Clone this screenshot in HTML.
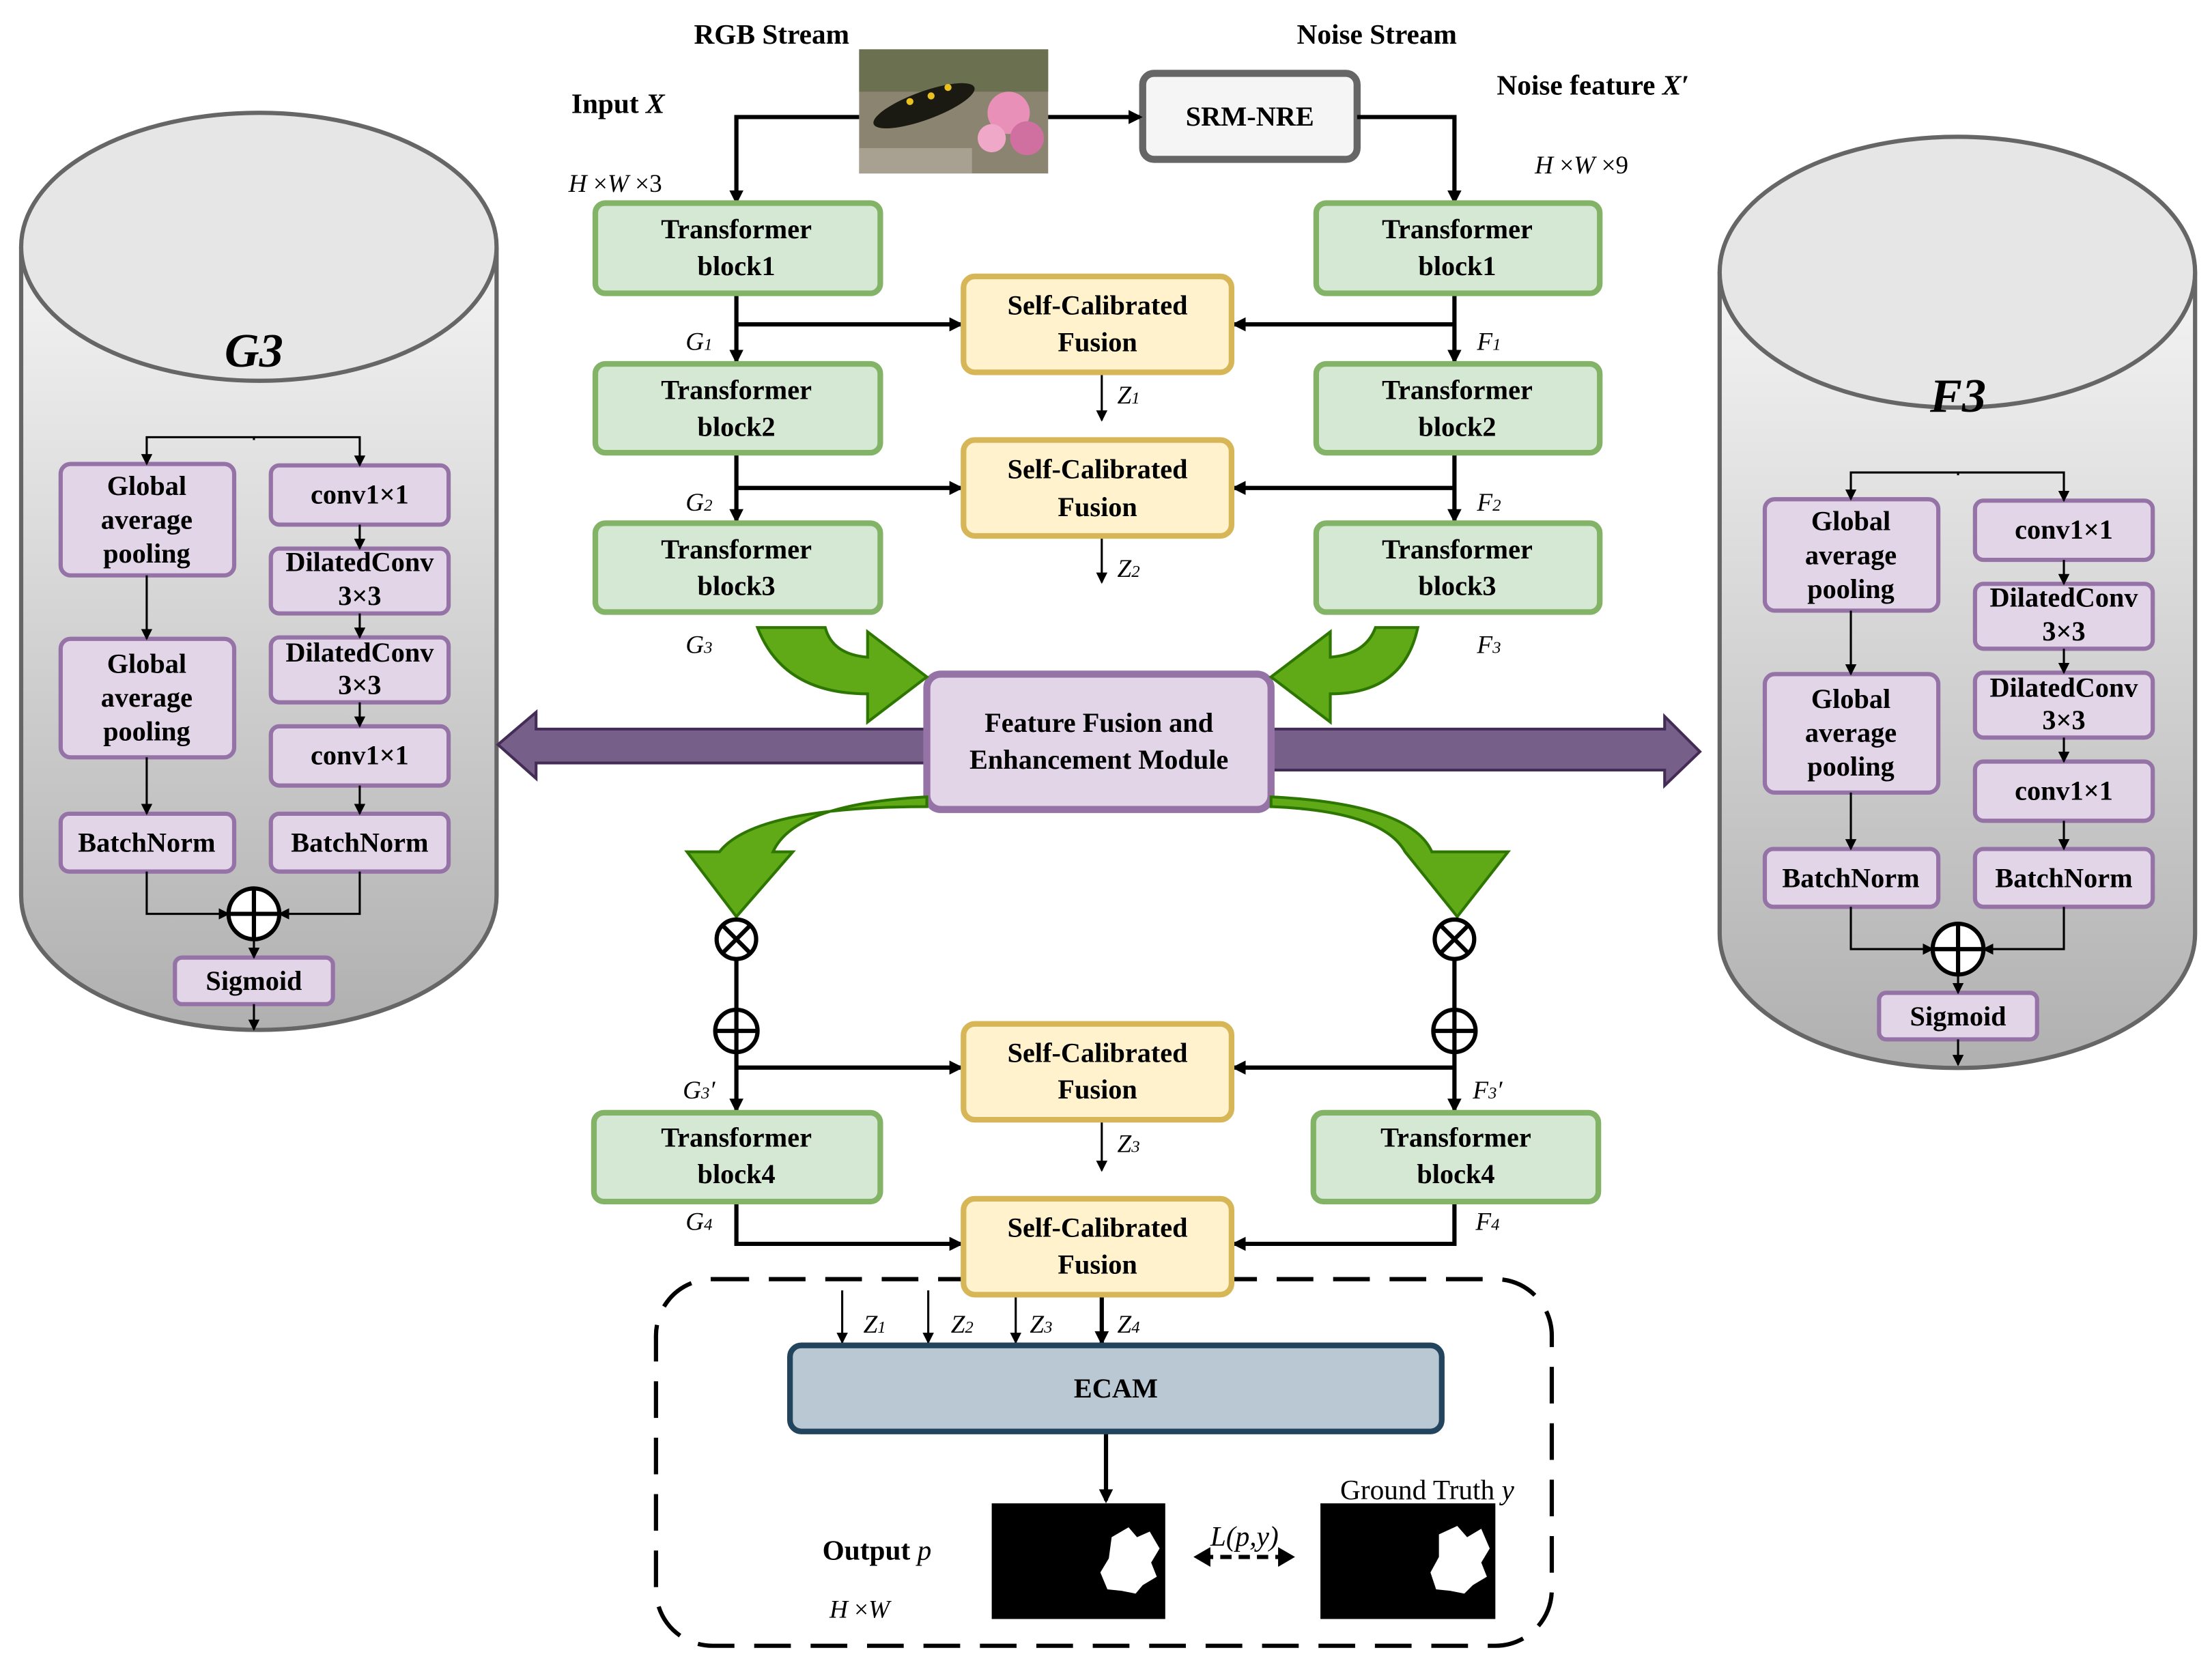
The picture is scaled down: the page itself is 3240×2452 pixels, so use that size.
<!DOCTYPE html>
<html><head><meta charset="utf-8"><style>
html,body{margin:0;padding:0;background:#fff;}
svg{display:block;}
text{font-family:"Liberation Serif",serif;}
.b{font-family:"Liberation Serif",serif;font-weight:bold;font-size:19.5px;text-anchor:middle;}
.i{font-family:"Liberation Serif",serif;font-style:italic;font-size:18px;}
</style></head><body>
<svg width="3240" height="2452" viewBox="0 0 1568 1187" preserveAspectRatio="none" xmlns="http://www.w3.org/2000/svg" font-family="Liberation Serif, serif">
<defs>
<marker id="a" markerWidth="10" markerHeight="10" refX="8" refY="5" orient="auto" markerUnits="userSpaceOnUse"><path d="M0,0 L10,5 L0,10 Z" fill="#000"/></marker>
<marker id="s" markerWidth="8" markerHeight="8" refX="7" refY="4" orient="auto" markerUnits="userSpaceOnUse"><path d="M0,0 L8,4 L0,8 Z" fill="#000"/></marker>
<linearGradient id="cyl" x1="0" y1="0" x2="0" y2="1"><stop offset="0" stop-color="#f4f4f4"/><stop offset="1" stop-color="#b0b0b0"/></linearGradient>
<g id="cylc">
<rect x="43" y="329" width="123" height="79" rx="7" fill="#e1d5e7" stroke="#9673a6" stroke-width="3"/>
<text class="b" x="104" y="351">Global</text><text class="b" x="104" y="375">average</text><text class="b" x="104" y="399">pooling</text>
<rect x="192" y="330" width="126" height="42" rx="6" fill="#e1d5e7" stroke="#9673a6" stroke-width="3"/>
<text class="b" x="255" y="357">conv1×1</text>
<rect x="192" y="389" width="126" height="46" rx="6" fill="#e1d5e7" stroke="#9673a6" stroke-width="3"/>
<text class="b" x="255" y="405">DilatedConv</text><text class="b" x="255" y="429">3×3</text>
<rect x="192" y="452" width="126" height="46" rx="6" fill="#e1d5e7" stroke="#9673a6" stroke-width="3"/>
<text class="b" x="255" y="469">DilatedConv</text><text class="b" x="255" y="492">3×3</text>
<rect x="192" y="515" width="126" height="42" rx="6" fill="#e1d5e7" stroke="#9673a6" stroke-width="3"/>
<text class="b" x="255" y="542">conv1×1</text>
<rect x="43" y="453" width="123" height="84" rx="7" fill="#e1d5e7" stroke="#9673a6" stroke-width="3"/>
<text class="b" x="104" y="477">Global</text><text class="b" x="104" y="501">average</text><text class="b" x="104" y="525">pooling</text>
<rect x="43" y="577" width="123" height="41" rx="6" fill="#e1d5e7" stroke="#9673a6" stroke-width="3"/>
<text class="b" x="104" y="604">BatchNorm</text>
<rect x="192" y="577" width="126" height="41" rx="6" fill="#e1d5e7" stroke="#9673a6" stroke-width="3"/>
<text class="b" x="255" y="604">BatchNorm</text>
<rect x="124" y="679" width="112" height="33" rx="5" fill="#e1d5e7" stroke="#9673a6" stroke-width="3"/>
<text class="b" x="180" y="702">Sigmoid</text>
<g fill="none" stroke="#000" stroke-width="1.5">
<path d="M180,312 V310 H104 V329" marker-end="url(#s)"/>
<path d="M180,310 H255 V330" marker-end="url(#s)"/>
<path d="M104,408 V453" marker-end="url(#s)"/>
<path d="M255,372 V389" marker-end="url(#s)"/>
<path d="M255,435 V452" marker-end="url(#s)"/>
<path d="M255,498 V515" marker-end="url(#s)"/>
<path d="M255,557 V577" marker-end="url(#s)"/>
<path d="M104,537 V577" marker-end="url(#s)"/>
<path d="M104,618 V648 H162" marker-end="url(#s)"/>
<path d="M255,618 V648 H198" marker-end="url(#s)"/>
<path d="M180,666 V679" marker-end="url(#s)"/>
<path d="M180,712 V730" marker-end="url(#s)"/>
</g>
<circle cx="180" cy="648" r="18" fill="#fff" stroke="#000" stroke-width="3"/>
<path d="M162,648 H198 M180,630 V666" stroke="#000" stroke-width="3"/>
</g>
</defs>

<path d="M15,175 V635 A168,95 0 0 0 352,635 V175" fill="url(#cyl)" stroke="#666" stroke-width="3"/>
<ellipse cx="183.5" cy="175" rx="168.5" ry="95" fill="#e6e6e6" stroke="#666" stroke-width="3"/>
<text x="180" y="260" font-size="34" font-weight="bold" font-style="italic" text-anchor="middle">G3</text>
<use href="#cylc"/>
<path d="M1219,193 V662 A168,95 0 0 0 1556,662 V193" fill="url(#cyl)" stroke="#666" stroke-width="3"/>
<ellipse cx="1387.5" cy="193" rx="168.5" ry="96" fill="#e6e6e6" stroke="#666" stroke-width="3"/>
<text x="1388" y="292" font-size="34" font-weight="bold" font-style="italic" text-anchor="middle">F3</text>
<use href="#cylc" transform="translate(1208,25)"/>

<text x="547" y="31" font-size="20" font-weight="bold" text-anchor="middle">RGB Stream</text>
<text x="976" y="31" font-size="20" font-weight="bold" text-anchor="middle">Noise Stream</text>
<text x="405" y="80" font-size="20" font-weight="bold">Input <tspan font-style="italic">X</tspan></text>
<text x="1061" y="67" font-size="20" font-weight="bold">Noise feature <tspan font-style="italic">X′</tspan></text>
<text x="403" y="136" font-size="18"><tspan font-style="italic">H</tspan> ×<tspan font-style="italic">W</tspan> ×3</text>
<text x="1088" y="123" font-size="18"><tspan font-style="italic">H</tspan> ×<tspan font-style="italic">W</tspan> ×9</text>

<rect x="609" y="35" width="134" height="88" fill="#8a8470"/>
<rect x="609" y="35" width="134" height="30" fill="#6a7050"/>
<ellipse cx="655" cy="75" rx="38" ry="10" fill="#1a1a12" transform="rotate(-20 655 75)"/>
<circle cx="645" cy="72" r="2.5" fill="#e8c020"/><circle cx="660" cy="68" r="2.5" fill="#e8c020"/><circle cx="672" cy="62" r="2.5" fill="#e8c020"/>
<circle cx="715" cy="80" r="15" fill="#e890b8"/><circle cx="728" cy="98" r="12" fill="#d070a0"/><circle cx="703" cy="98" r="10" fill="#f0a8c8"/>
<rect x="609" y="105" width="80" height="18" fill="#a8a090"/>

<rect x="810" y="52" width="152" height="61" rx="8" fill="#f5f5f5" stroke="#666" stroke-width="5"/>
<text class="b" x="886" y="89">SRM-NRE</text>

<rect x="465" y="907" width="635" height="260" rx="40" fill="none" stroke="#000" stroke-width="3" stroke-dasharray="26,14"/>

<g fill="none" stroke="#000" stroke-width="3">
<path d="M609,83 H522 V143" marker-end="url(#a)"/>
<path d="M743,83 H808" marker-end="url(#a)"/>
<path d="M962,83 H1031 V143" marker-end="url(#a)"/>
<path d="M522,208 V256" marker-end="url(#a)"/><path d="M522,230 H681" marker-end="url(#a)"/>
<path d="M1031,208 V256" marker-end="url(#a)"/><path d="M1031,230 H875" marker-end="url(#a)"/>
<path d="M522,321 V369" marker-end="url(#a)"/><path d="M522,346 H681" marker-end="url(#a)"/>
<path d="M1031,321 V369" marker-end="url(#a)"/><path d="M1031,346 H875" marker-end="url(#a)"/>
<path d="M522,680 V715"/><path d="M522,745 V787" marker-end="url(#a)"/><path d="M522,757 H681" marker-end="url(#a)"/>
<path d="M1031,680 V715"/><path d="M1031,745 V787" marker-end="url(#a)"/><path d="M1031,757 H875" marker-end="url(#a)"/>
<path d="M522,852 V882 H681" marker-end="url(#a)"/>
<path d="M1031,852 V882 H875" marker-end="url(#a)"/>
<path d="M781,915 V952" marker-end="url(#a)"/>
<path d="M784,1015 V1064" marker-end="url(#a)"/>
</g>
<g fill="none" stroke="#000" stroke-width="1.5">
<path d="M781,265 V298" marker-end="url(#s)"/>
<path d="M781,380 V413" marker-end="url(#s)"/>
<path d="M781,795 V830" marker-end="url(#s)"/>
<path d="M597,915 V952" marker-end="url(#s)"/>
<path d="M658,915 V952" marker-end="url(#s)"/>
<path d="M720,915 V952" marker-end="url(#s)"/>
</g>

<g fill="#d5e8d4" stroke="#82b366" stroke-width="4">
<rect x="422" y="144" width="202" height="64" rx="7"/><rect x="422" y="258" width="202" height="63" rx="7"/><rect x="422" y="371" width="202" height="63" rx="7"/>
<rect x="933" y="144" width="201" height="64" rx="7"/><rect x="933" y="258" width="201" height="63" rx="7"/><rect x="933" y="371" width="201" height="63" rx="7"/>
<rect x="421" y="789" width="203" height="63" rx="7"/><rect x="931" y="789" width="202" height="63" rx="7"/>
</g>
<text class="b" x="522" y="169">Transformer</text><text class="b" x="522" y="195">block1</text>
<text class="b" x="522" y="283">Transformer</text><text class="b" x="522" y="309">block2</text>
<text class="b" x="522" y="396">Transformer</text><text class="b" x="522" y="422">block3</text>
<text class="b" x="1033" y="169">Transformer</text><text class="b" x="1033" y="195">block1</text>
<text class="b" x="1033" y="283">Transformer</text><text class="b" x="1033" y="309">block2</text>
<text class="b" x="1033" y="396">Transformer</text><text class="b" x="1033" y="422">block3</text>
<text class="b" x="522" y="813">Transformer</text><text class="b" x="522" y="839">block4</text>
<text class="b" x="1032" y="813">Transformer</text><text class="b" x="1032" y="839">block4</text>

<g fill="#fff2cc" stroke="#d6b656" stroke-width="4">
<rect x="683" y="196" width="190" height="68" rx="8"/><rect x="683" y="312" width="190" height="68" rx="8"/>
<rect x="683" y="726" width="190" height="68" rx="8"/><rect x="683" y="850" width="190" height="68" rx="8"/>
</g>
<text class="b" x="778" y="223">Self-Calibrated</text><text class="b" x="778" y="249">Fusion</text>
<text class="b" x="778" y="339">Self-Calibrated</text><text class="b" x="778" y="366">Fusion</text>
<text class="b" x="778" y="753">Self-Calibrated</text><text class="b" x="778" y="779">Fusion</text>
<text class="b" x="778" y="877">Self-Calibrated</text><text class="b" x="778" y="903">Fusion</text>

<text class="i" x="486" y="248">G<tspan font-size="12">1</tspan></text>
<text class="i" x="1047" y="248">F<tspan font-size="12">1</tspan></text>
<text class="i" x="486" y="362">G<tspan font-size="12">2</tspan></text>
<text class="i" x="1047" y="362">F<tspan font-size="12">2</tspan></text>
<text class="i" x="486" y="463">G<tspan font-size="12">3</tspan></text>
<text class="i" x="1047" y="463">F<tspan font-size="12">3</tspan></text>
<text class="i" x="484" y="779">G<tspan font-size="12">3</tspan>′</text>
<text class="i" x="1044" y="779">F<tspan font-size="12">3</tspan>′</text>
<text class="i" x="486" y="872">G<tspan font-size="12">4</tspan></text>
<text class="i" x="1046" y="872">F<tspan font-size="12">4</tspan></text>
<text class="i" x="792" y="286">Z<tspan font-size="12">1</tspan></text>
<text class="i" x="792" y="409">Z<tspan font-size="12">2</tspan></text>
<text class="i" x="792" y="817">Z<tspan font-size="12">3</tspan></text>
<text class="i" x="612" y="945">Z<tspan font-size="12">1</tspan></text>
<text class="i" x="674" y="945">Z<tspan font-size="12">2</tspan></text>
<text class="i" x="730" y="945">Z<tspan font-size="12">3</tspan></text>
<text class="i" x="792" y="945">Z<tspan font-size="12">4</tspan></text>

<path d="M660,517 H380 V505 L353,528 L380,552 V541 H660 Z" fill="#76608a" stroke="#432d57" stroke-width="2"/>
<path d="M898,517 H1180 V508 L1205,533 L1180,557 V546 H898 Z" fill="#76608a" stroke="#432d57" stroke-width="2"/>

<rect x="657" y="478" width="244" height="96" rx="10" fill="#e1d5e7" stroke="#9673a6" stroke-width="5"/>
<text class="b" x="779" y="519">Feature Fusion and</text>
<text class="b" x="779" y="545">Enhancement Module</text>

<g fill="#60a917" stroke="#2d7600" stroke-width="2">
<path d="M537,445 Q555,492 615,492 L615,512 L657,480 L615,448 L615,466 Q590,464 585,445 Z"/>
<path d="M1005,445 Q995,492 943,492 L943,512 L901,480 L943,448 L943,466 Q968,464 975,445 Z"/>
<path d="M657,565 Q563,570 548,604 L562,604 L522,650 L487,604 L510,604 Q535,572 657,572 Z"/>
<path d="M901,565 Q1000,570 1015,604 L1069,604 L1033,650 L996,604 Q980,575 901,572 Z"/>
</g>

<g fill="#fff" stroke="#000" stroke-width="3">
<circle cx="522" cy="666" r="14"/><circle cx="1031" cy="666" r="14"/>
<circle cx="522" cy="731" r="15"/><circle cx="1031" cy="731" r="15"/>
</g>
<g stroke="#000" stroke-width="3">
<path d="M512,656 L532,676 M532,656 L512,676"/><path d="M1021,656 L1041,676 M1041,656 L1021,676"/>
<path d="M507,731 H537 M522,716 V746"/><path d="M1016,731 H1046 M1031,716 V746"/>
</g>

<rect x="560" y="954" width="462" height="61" rx="8" fill="#bac8d3" stroke="#23445d" stroke-width="4"/>
<text class="b" x="791" y="991">ECAM</text>

<rect x="703" y="1066" width="123" height="82" fill="#000"/>
<path d="M788,1090 L800,1083 L806,1090 L815,1086 L822,1098 L816,1108 L820,1118 L810,1124 L805,1130 L795,1128 L785,1127 L780,1115 L786,1105 Z" fill="#fff"/>
<rect x="936" y="1066" width="124" height="82" fill="#000"/>
<path d="M1020,1088 L1033,1082 L1040,1090 L1050,1084 L1056,1098 L1050,1108 L1054,1118 L1044,1124 L1038,1130 L1028,1128 L1018,1127 L1014,1115 L1020,1104 Z" fill="#fff"/>

<text x="583" y="1106" font-size="20" font-weight="bold">Output <tspan font-style="italic" font-weight="normal">p</tspan></text>
<text x="588" y="1147" font-size="18"><tspan font-style="italic">H</tspan> ×<tspan font-style="italic">W</tspan></text>
<text x="950" y="1063" font-size="20">Ground Truth <tspan font-style="italic">y</tspan></text>
<text x="858" y="1096" font-size="20" font-style="italic">L(p,y)</text>
<path d="M852,1104 H912" stroke="#000" stroke-width="3" stroke-dasharray="8,5"/>
<path d="M846,1104 L858,1097 L858,1111 Z M918,1104 L906,1097 L906,1111 Z" fill="#000"/>
</svg>
</body></html>
